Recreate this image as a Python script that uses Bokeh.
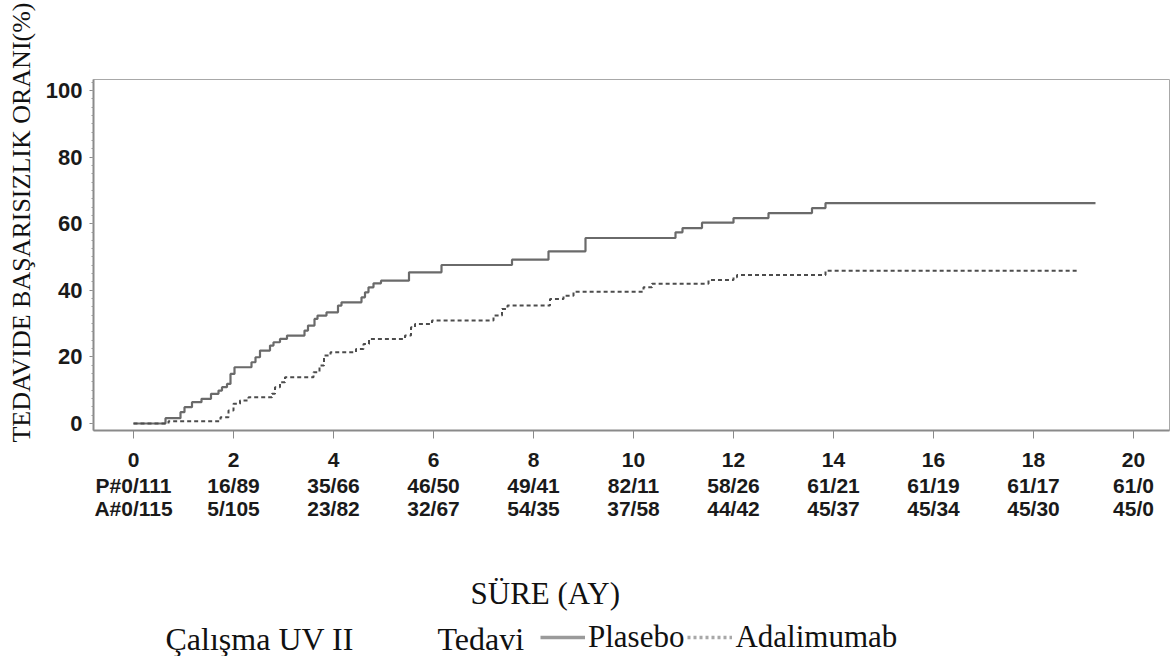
from math import pi
from bokeh.plotting import figure
from bokeh.layouts import row, column
from bokeh.models import (LinearAxis, FixedTicker, SingleIntervalTicker, Label,
                          Legend, LegendItem, Range1d)
from bokeh.embed import file_html
from bokeh.resources import INLINE

# ---------------- data ----------------
x_ticks = [0, 2, 4, 6, 8, 10, 12, 14, 16, 18, 20]
placebo_counts = ["P#0/111", "16/89", "35/66", "46/50", "49/41", "82/11",
                  "58/26", "61/21", "61/19", "61/17", "61/0"]
adalimumab_counts = ["A#0/115", "5/105", "23/82", "32/67", "54/35", "37/58",
                     "44/42", "45/37", "45/34", "45/30", "45/0"]

placebo_t = [0, 0.64, 0.94, 1.02, 1.17, 1.36, 1.55, 1.70, 1.77, 1.87, 1.94,
             2.02, 2.36, 2.44, 2.53, 2.73, 2.80, 2.93, 3.07, 3.42, 3.49, 3.62,
             3.68, 3.86, 4.09, 4.16, 4.56, 4.63, 4.70, 4.80, 4.95, 5.51, 6.16,
             7.57, 8.30, 9.04, 10.84, 10.98, 11.37, 12.0, 12.7, 13.57, 13.84]
placebo_pct = [0, 1.6, 3.4, 4.9, 6.4, 7.4, 8.9, 9.9, 10.9, 11.9, 14.9,
               16.9, 18.4, 19.9, 21.9, 23.4, 24.4, 25.4, 26.4, 27.9, 29.4, 31.4,
               32.4, 33.4, 35.4, 36.4, 37.9, 39.4, 40.9, 42.1, 42.9, 45.4, 47.6,
               49.2, 51.7, 55.7, 57.4, 58.7, 60.3, 61.7, 63.2, 64.7, 66.2]
placebo_end = 19.24

ada_t = [0, 0.70, 1.74, 1.90, 2.0, 2.13, 2.30, 2.77, 2.83, 2.93, 3.03, 3.60,
         3.72, 3.81, 3.94, 4.45, 4.60, 4.71, 5.43, 5.55, 5.63, 5.97, 7.2, 7.37,
         7.48, 8.33, 8.6, 8.8, 10.2, 10.37, 11.5, 12.0, 12.07, 13.84]
ada_pct = [0, 0.7, 1.9, 3.9, 5.9, 6.9, 7.9, 8.9, 10.9, 12.4, 13.9, 15.4,
           17.4, 20.4, 21.4, 22.4, 23.9, 25.4, 26.4, 28.9, 29.9, 30.9, 32.4, 34.4,
           35.4, 37.4, 38.4, 39.6, 40.9, 42.0, 43.1, 43.9, 44.6, 45.9]
ada_end = 18.9

y_title = "TEDAVIDE BAŞARISIZLIK ORANI(%)"
x_title = "SÜRE (AY)"
study_label = "Çalışma UV II"
treat_label = "Tedavi"
series_names = ["Plasebo", "Adalimumab"]

# ---------------- layout sizes (page pixels) ----------------
TOTAL_W, TOTAL_H = 1171, 656
LEFT_W = 40          # strip holding the vertical axis title
MAIN_H = 530         # main chart (frame + count rows)
FRAME_L, FRAME_R, FRAME_T, FRAME_B = 93, 1169, 79, 430

TICK_FONT = "Liberation Sans"
SERIF = "Liberation Serif"
TXT = "#111111"

def blank(width, height, xr, yr, **kw):
    f = figure(width=width, height=height, x_range=xr, y_range=yr,
               output_backend="svg", toolbar_location=None,
               x_axis_location=None, y_axis_location=None, **kw)
    f.grid.visible = False
    f.outline_line_color = None
    f.background_fill_color = "white"
    f.border_fill_color = "white"
    return f

# ---------------- main chart ----------------
main_w = TOTAL_W - LEFT_W
border_l = FRAME_L - LEFT_W
border_r = LEFT_W + main_w - FRAME_R
p = figure(width=main_w, height=MAIN_H,
           x_range=Range1d(-0.8, 20.72), y_range=Range1d(-2.1, 103.3),
           output_backend="svg", toolbar_location=None,
           min_border_left=border_l, min_border_right=border_r,
           min_border_top=FRAME_T, min_border_bottom=MAIN_H - FRAME_B)
p.grid.visible = False
p.outline_line_color = "#a8a8a8"
p.outline_line_width = 1
p.background_fill_color = "white"
p.border_fill_color = "white"

p.step(placebo_t + [placebo_end], placebo_pct + [placebo_pct[-1]],
       mode="after", line_color="#6a6a6a", line_width=2.2)
p.step(ada_t + [ada_end], ada_pct + [ada_pct[-1]],
       mode="after", line_color="#4c4c4c", line_width=2,
       line_dash="4 3")

xa = p.xaxis[0]
xa.ticker = FixedTicker(ticks=x_ticks)
xa.axis_line_color = "#8a8a8a"
xa.axis_line_width = 2
xa.major_tick_line_color = "#8a8a8a"
xa.major_tick_out = 8
xa.major_tick_in = 0
xa.minor_tick_out = 0
xa.minor_tick_in = 0
xa.major_label_standoff = 14
xa.major_label_text_font = TICK_FONT
xa.major_label_text_font_style = "bold"
xa.major_label_text_font_size = "21px"
xa.major_label_text_color = "#1a1a1a"

ya = p.yaxis[0]
ya.ticker = SingleIntervalTicker(interval=20, num_minor_ticks=8)
ya.axis_line_color = "#8a8a8a"
ya.axis_line_width = 2
ya.major_tick_line_color = "#8a8a8a"
ya.minor_tick_line_color = "#9a9a9a"
ya.major_tick_out = 4
ya.major_tick_in = 0
ya.minor_tick_out = 2
ya.minor_tick_in = 0
ya.major_label_standoff = 7
ya.major_label_text_font = TICK_FONT
ya.major_label_text_font_style = "bold"
ya.major_label_text_font_size = "22px"
ya.major_label_text_color = "#1a1a1a"

def count_axis(labels, standoff):
    ax = LinearAxis(ticker=FixedTicker(ticks=x_ticks),
                    major_label_overrides={t: s for t, s in zip(x_ticks, labels)})
    ax.axis_line_color = None
    ax.major_tick_line_color = None
    ax.minor_tick_line_color = None
    ax.major_tick_out = 0
    ax.major_tick_in = 0
    ax.minor_tick_out = 0
    ax.minor_tick_in = 0
    ax.major_label_standoff = standoff
    ax.major_label_text_font = TICK_FONT
    ax.major_label_text_font_style = "bold"
    ax.major_label_text_font_size = "21px"
    ax.major_label_text_color = "#1a1a1a"
    return ax

p.add_layout(count_axis(placebo_counts, 4), "below")
p.add_layout(count_axis(adalimumab_counts, -3), "below")

# ---------------- left strip: vertical axis title ----------------
left = blank(LEFT_W, TOTAL_H, Range1d(0, LEFT_W), Range1d(TOTAL_H, 0),
             min_border=0)
left.add_layout(Label(x=21, y=222, text=y_title, angle=pi / 2,
                      text_align="center", text_baseline="middle",
                      text_font=SERIF, text_font_size="26px", text_color=TXT))

# ---------------- bottom strip: x title and legend ----------------
# (its frame lines up with the main frame, so x data = page pixels)
bot_h = TOTAL_H - MAIN_H
bot = blank(main_w, bot_h, Range1d(FRAME_L, FRAME_R), Range1d(TOTAL_H, MAIN_H),
            min_border_left=border_l, min_border_right=border_r,
            min_border_top=0, min_border_bottom=0)
BASE_FIX = 10   # alphabetic-baseline correction seen in the render
bot.add_layout(Label(x=470, y=603 - BASE_FIX, text=x_title, text_align="left",
                     text_baseline="alphabetic", text_font=SERIF,
                     text_font_size="31px", text_color=TXT))
bot.add_layout(Label(x=165, y=648 - BASE_FIX, text=study_label, text_align="left",
                     text_baseline="alphabetic", text_font=SERIF,
                     text_font_size="32px", text_color=TXT))
bot.add_layout(Label(x=437, y=648 - BASE_FIX, text=treat_label, text_align="left",
                     text_baseline="alphabetic", text_font=SERIF,
                     text_font_size="32px", text_color=TXT))

nan = float("nan")
lr_p = bot.line([nan], [nan], line_color="#9a9a9a", line_width=3.5)
lr_a = bot.line([nan], [nan], line_color="#a8a8a8", line_width=3.5,
                line_dash="3 3")
legend = Legend(items=[LegendItem(label=series_names[0], renderers=[lr_p]),
                       LegendItem(label=series_names[1], renderers=[lr_a])],
                orientation="horizontal",
                location=(540 - FRAME_L, 1),
                label_text_font=SERIF, label_text_font_size="31px",
                label_text_color=TXT,
                glyph_width=45, glyph_height=20, label_standoff=3, spacing=3,
                padding=0, margin=0, border_line_color=None,
                background_fill_alpha=0)
bot.add_layout(legend)

layout = row(left, column(p, bot, spacing=0), spacing=0)
open("out.html", "w").write(file_html(layout, INLINE))
